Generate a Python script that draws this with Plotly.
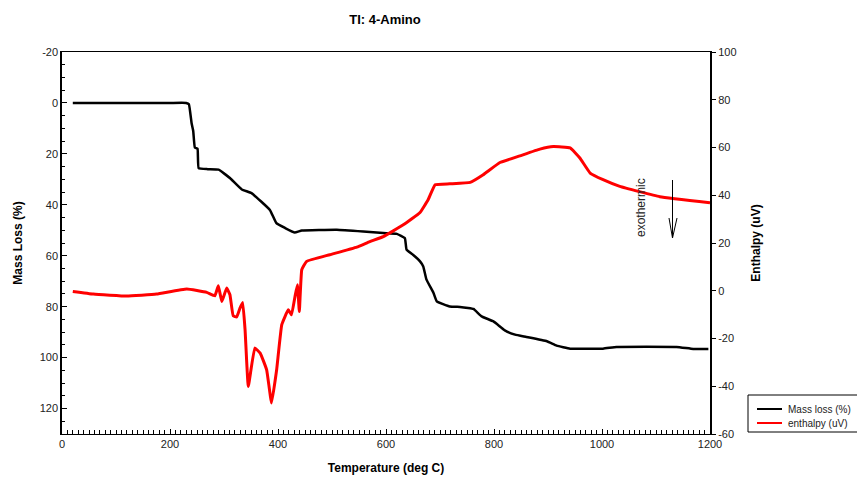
import plotly.graph_objects as go

# Mass loss (%) vs temperature (deg C)
mass_T = [20, 100, 200, 230, 235, 240, 243, 246, 251, 253, 270, 290, 311, 333, 351, 385,
          397, 413, 431, 444, 509, 558, 595, 620, 635, 638, 650, 663, 669, 675, 688, 694,
          718, 737, 752, 762, 777, 799, 820, 839, 860, 898, 916, 941, 1002, 1027, 1138,
          1169, 1197]
mass_loss = [0.0, 0.0, 0.0, 0.0, 0.5, 8.0, 11.0, 17.5, 18.0, 25.6, 26.0, 26.2, 29.5, 34.0,
             35.4, 42.0, 47.2, 49.1, 50.9, 50.1, 49.8, 50.5, 51.1, 51.4, 53.1, 57.6, 59.6,
             62.2, 64.2, 69.4, 74.6, 77.9, 79.9, 80.1, 80.5, 80.9, 83.8, 85.8, 89.3, 91.0,
             91.9, 93.6, 95.3, 96.5, 96.5, 95.8, 95.8, 96.6, 96.6]

# Enthalpy (uV) vs temperature (deg C)
enth_T = [20, 58, 120, 175, 231, 268, 283, 289.5, 296, 305, 311, 317, 323.5, 329.6, 334.6,
          339, 345, 357, 367, 379, 388, 397.5, 407, 419, 425, 431.5, 436, 439.5, 444, 453,
          496, 546, 570, 595, 632, 663, 678, 691, 718, 756, 780, 811, 848, 885, 910, 941,
          959, 978, 1002, 1033, 1107, 1200]
enthalpy = [-0.3, -1.4, -2.2, -1.4, 0.7, -0.7, -2.1, 2.1, -4.5, 1.1, -1.7, -10.5, -11.0,
            -7.3, -4.9, -16.3, -40.1, -24.0, -26.1, -33.1, -47.0, -33.1, -14.2, -8.0, -10.1,
            -2.4, 2.5, -8.7, 8.8, 12.3, 15.1, 18.3, 20.6, 22.7, 27.6, 32.8, 38.1, 44.4, 44.8,
            45.4, 48.6, 53.7, 56.5, 59.3, 60.4, 59.8, 55.6, 49.3, 46.5, 43.7, 39.4, 36.9]

# Tick labels
mass_ticks = [-20, 0, 20, 40, 60, 80, 100, 120]
enth_ticks = [-60, -40, -20, 0, 20, 40, 60, 80, 100]

series_names = ["Mass loss (%)", "enthalpy (uV)"]
series_colors = ["black", "red"]

FONT = "Liberation Sans, Arial, sans-serif"

fig = go.Figure()
fig.add_trace(go.Scatter(x=mass_T, y=mass_loss, mode="lines", name=series_names[0],
                         line=dict(color=series_colors[0], width=2.5, shape="spline",
                                   smoothing=0.3),
                         yaxis="y", showlegend=False))
fig.add_trace(go.Scatter(x=enth_T, y=enthalpy, mode="lines", name=series_names[1],
                         line=dict(color=series_colors[1], width=3, shape="spline",
                                   smoothing=0.3),
                         yaxis="y2", showlegend=False))

L, R, T, B = 62, 710, 52, 434
W, H = 857, 477


def px(xp):
    return (xp - L) / (R - L)


def py(yp):
    return (B - yp) / (B - T)


fig.update_layout(
    width=W, height=H,
    margin=dict(l=L, r=W - R, t=T, b=H - B, autoexpand=False),
    paper_bgcolor="white", plot_bgcolor="white",
    font=dict(family=FONT, size=11, color="#222"),
    title=dict(text="<b>TI: 4-Amino</b>", x=(385) / W, xanchor="center", y=1 - 19 / H,
               yanchor="middle", font=dict(size=13, color="black")),
    xaxis=dict(range=[0, 1200], dtick=200, tick0=0, showgrid=False, zeroline=False,
               showline=True, linecolor="black", linewidth=1, mirror=True, automargin=False,
               ticks="inside", ticklen=5, tickcolor="black",
               minor=dict(dtick=10, ticks="inside", ticklen=4, tickcolor="black"),
               title=dict(text="<b>Temperature (deg C)</b>", font=dict(size=12, color="black"),
                          standoff=14)),
    yaxis=dict(range=[130, -20], tickvals=mass_ticks, ticktext=[str(v) for v in mass_ticks],
               showgrid=False, zeroline=False, automargin=False,
               showline=True, linecolor="black", linewidth=1.5, mirror=True,
               ticks="inside", ticklen=5, tickcolor="black",
               minor=dict(dtick=5, tick0=0, ticks="inside", ticklen=3, tickcolor="black"),
               title=dict(text="<b>Mass Loss (%)</b>", font=dict(size=12, color="black"),
                          standoff=14)),
    yaxis2=dict(range=[-60, 100], tickvals=enth_ticks, ticktext=[str(v) for v in enth_ticks],
                overlaying="y", side="right", automargin=False,
                showgrid=False, zeroline=False, showline=True, linecolor="black",
                ticks="outside", ticklen=5, tickcolor="black",
                title=dict(text="<b>Enthalpy (uV)</b>", font=dict(size=12, color="black"),
                           standoff=16)),
    showlegend=False,
)

# manual legend box
fig.add_shape(type="rect", xref="paper", yref="paper", x0=px(748), y0=py(432),
              x1=px(870), y1=py(395), line=dict(color="black", width=1),
              fillcolor="white", layer="above")
for i, (nm, col) in enumerate(zip(series_names, series_colors)):
    yy = 409 + 14 * i
    fig.add_shape(type="line", xref="paper", yref="paper", x0=px(757), x1=px(782),
                  y0=py(yy), y1=py(yy), line=dict(color=col, width=2), layer="above")
    fig.add_annotation(text=nm, xref="paper", yref="paper", x=px(786), y=py(yy),
                       xanchor="left", yanchor="middle", showarrow=False,
                       font=dict(size=10, color="#222"))

# exothermic annotation
fig.add_annotation(text="exothermic", xref="paper", yref="paper", x=px(650), y=py(208),
                   showarrow=False, textangle=-90, font=dict(size=12, color="#222"))
fig.add_shape(type="line", xref="paper", yref="paper", x0=px(672.5), y0=py(180),
              x1=px(672.5), y1=py(238), line=dict(color="black", width=1))
fig.add_shape(type="path", xref="paper", yref="paper",
              path=f"M {px(669)} {py(218)} L {px(672.5)} {py(238)} L {px(677)} {py(218)}",
              line=dict(color="black", width=1))

fig.write_html("out.html")
